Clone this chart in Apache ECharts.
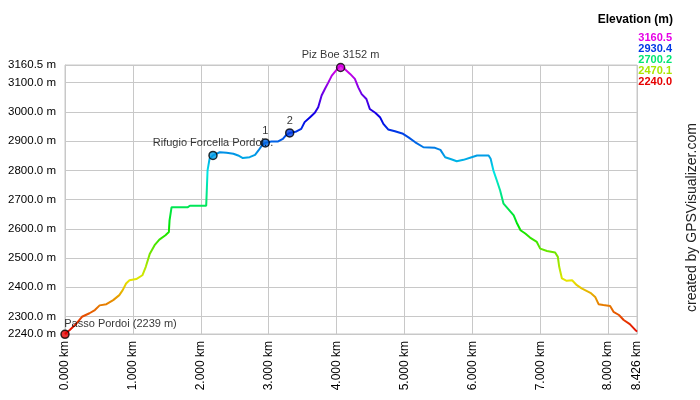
<!DOCTYPE html>
<html>
<head>
<meta charset="utf-8">
<script src="https://cdn.jsdelivr.net/npm/echarts@6/dist/echarts.min.js"></script>
<style>html,body{margin:0;padding:0;background:#fff}#c{width:700px;height:400px}</style>
</head>
<body>
<div id="c"></div>
<script>
// ---- data ----
var distKm = [0, 0.02, 0.07, 0.17, 0.25, 0.36, 0.44, 0.51, 0.61, 0.71, 0.80, 0.85, 0.90, 0.95, 1.05, 1.14, 1.19, 1.25, 1.32, 1.39, 1.48, 1.53, 1.54, 1.57, 1.64, 1.81, 1.84, 2.08, 2.09, 2.10, 2.13, 2.18, 2.28, 2.38, 2.48, 2.55, 2.62, 2.72, 2.80, 2.85, 2.90, 2.95, 3.04, 3.14, 3.21, 3.25, 3.31, 3.41, 3.48, 3.53, 3.61, 3.68, 3.73, 3.78, 3.83, 3.88, 3.93, 4.00, 4.06, 4.12, 4.20, 4.27, 4.32, 4.37, 4.44, 4.49, 4.57, 4.64, 4.69, 4.76, 4.86, 4.98, 5.06, 5.16, 5.28, 5.45, 5.53, 5.60, 5.70, 5.77, 5.87, 5.99, 6.07, 6.24, 6.27, 6.31, 6.36, 6.41, 6.46, 6.54, 6.61, 6.66, 6.71, 6.78, 6.85, 6.95, 7.00, 7.10, 7.22, 7.26, 7.28, 7.32, 7.39, 7.47, 7.54, 7.61, 7.74, 7.81, 7.86, 7.93, 8.03, 8.08, 8.16, 8.23, 8.32, 8.40, 8.426];
var elevM = [2240, 2242, 2254, 2276, 2299, 2311, 2322, 2338, 2342, 2356, 2373, 2390, 2413, 2424, 2428, 2441, 2470, 2515, 2544, 2563, 2578, 2589, 2629, 2674, 2674, 2674, 2679, 2679, 2740, 2800, 2840, 2851, 2862, 2860, 2857, 2851, 2842, 2845, 2853, 2868, 2885, 2894, 2899, 2899, 2908, 2919, 2928, 2933, 2942, 2965, 2982, 2997, 3016, 3056, 3079, 3101, 3124, 3144, 3160.5, 3147, 3130, 3113, 3084, 3061, 3044, 3010, 2997, 2982, 2959, 2940, 2934, 2925, 2913, 2896, 2879, 2877, 2870, 2845, 2837, 2831, 2836, 2845, 2851, 2851, 2840, 2800, 2766, 2731, 2686, 2665, 2646, 2618, 2595, 2584, 2570, 2555, 2532, 2524, 2519, 2504, 2470, 2430, 2422, 2424, 2407, 2396, 2381, 2367, 2342, 2339, 2336, 2316, 2305, 2288, 2274, 2254, 2248];

var wpNames = ['Passo Pordoi (2239 m)', 'Rifugio Forcella Pordoi...', '1', '2', 'Piz Boe 3152 m'];
var wpKm = [0, 2.18, 2.95, 3.31, 4.06];
var wpElev = [2239, 2851, 2894, 2928, 3152];

var xTicks = [0, 1, 2, 3, 4, 5, 6, 7, 8, 8.426];
var yTicks = [2240, 2300, 2400, 2500, 2600, 2700, 2800, 2900, 3000, 3100, 3160.5];
var legendValues = [3160.5, 2930.4, 2700.2, 2470.1, 2240.0];
var yMin = 2240, yMax = 3160.5;

// ---- colour scale: hue 0 (red) -> 300 (magenta) ----
function hslHex(h, s, l) {
  s /= 100; l /= 100;
  var k = function (n) { return (n + h / 30) % 12; };
  var a = s * Math.min(l, 1 - l);
  var f = function (n) { return l - a * Math.max(-1, Math.min(k(n) - 3, Math.min(9 - k(n), 1))); };
  var to = function (x) { var v = Math.round(x * 255).toString(16); return v.length < 2 ? '0' + v : v; };
  return '#' + to(f(0)) + to(f(8)) + to(f(4));
}
var stops = [];
for (var i = 0; i <= 20; i++) stops.push(hslHex(300 * i / 20, 100, 45));
function colorFor(v) { return hslHex(300 * (v - yMin) / (yMax - yMin), 100, 45); }

var lineData = distKm.map(function (d, i) { return [d, elevM[i]]; });
var wpData = wpKm.map(function (d, i) {
  var pos = i === 0 ? { position: [4, -11], align: 'left' } : { position: 'top', distance: 2 };
  return { value: [d, wpElev[i]], name: wpNames[i], itemStyle: { color: colorFor(Math.max(wpElev[i], yMin)) }, label: Object.assign({ show: true, formatter: wpNames[i] }, pos) };
});

var FONT = 'Liberation Sans, Arial, sans-serif';
var chart = echarts.init(document.getElementById('c'), null, { renderer: 'canvas' });

var graphics = [
  { type: 'text', right: 27, top: 14, style: { text: 'Elevation (m)', font: 'bold 12px ' + FONT, fill: '#000', textAlign: 'right' } }
];
legendValues.forEach(function (v, i) {
  graphics.push({ type: 'text', right: 28, top: 32 + i * 11, style: { text: v.toFixed(1), font: 'bold 11px ' + FONT, fill: colorFor(v) } });
});
graphics.push({ type: 'text', x: 692, y: 312, rotation: Math.PI / 2, style: { text: 'created by GPSVisualizer.com', font: '14px ' + FONT, fill: '#222', textAlign: 'left', textVerticalAlign: 'middle' } });

chart.setOption({
  animation: false,
  backgroundColor: '#fff',
  grid: { left: 65, right: 63, top: 65, bottom: 66, show: true, borderColor: '#c8c8c8', borderWidth: 1, containLabel: false },
  xAxis: {
    type: 'value', min: 0, max: 8.426,
    axisLine: { show: true, lineStyle: { color: '#c8c8c8' } },
    axisTick: { show: true, length: 0, customValues: xTicks },
    axisLabel: { customValues: xTicks, rotate: 90, margin: 7, color: '#000', fontFamily: FONT, fontSize: 12, formatter: function (v) { return v.toFixed(3) + ' km'; } },
    splitLine: { show: true, lineStyle: { color: '#c8c8c8', width: 1 } }
  },
  yAxis: {
    type: 'value', min: yMin, max: yMax,
    axisLine: { show: true, lineStyle: { color: '#c8c8c8' } },
    axisTick: { show: true, length: 0, customValues: yTicks },
    axisLabel: { customValues: yTicks, margin: 9, color: '#000', fontFamily: FONT, fontSize: 11.5, formatter: function (v) { return v.toFixed(1) + ' m'; } },
    splitLine: { show: true, lineStyle: { color: '#c8c8c8', width: 1 } }
  },
  visualMap: { show: false, type: 'continuous', seriesIndex: 0, dimension: 1, min: yMin, max: yMax, inRange: { color: stops } },
  series: [
    { type: 'line', data: lineData, showSymbol: false, lineStyle: { width: 2 }, z: 3 },
    { type: 'scatter', data: wpData, clip: false, symbol: 'circle', symbolSize: 8, z: 5,
      itemStyle: { borderColor: '#000', borderWidth: 1.5 },
      label: { color: '#000', fontFamily: FONT, fontSize: 11 } }
  ],
  graphic: graphics
});
</script>
</body>
</html>
